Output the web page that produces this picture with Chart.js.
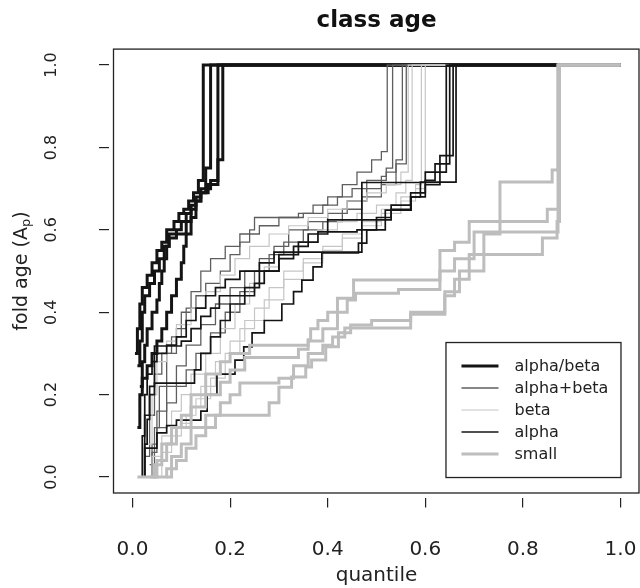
<!DOCTYPE html>
<html><head><meta charset="utf-8">
<script src="https://cdn.jsdelivr.net/npm/chart.js@4.4.0/dist/chart.umd.min.js"></script>
<style>html,body{margin:0;padding:0;background:#fff}#wrap{width:640px;height:588px}</style>
</head><body><div id="wrap"><canvas id="c" width="640" height="588"></canvas></div>
<script>
// ---------- data ----------
const categories = ['alpha/beta', 'alpha+beta', 'beta', 'alpha', 'small'];
const xTickValues = [0, 0.2, 0.4, 0.6, 0.8, 1.0];
const yTickValues = [0, 0.2, 0.4, 0.6, 0.8, 1.0];

// alpha/beta
const abX1 = [0.005,0.01,0.015,0.02,0.03,0.04,0.05,0.06,0.07,0.085,0.095,0.105,0.115,0.125,0.135,0.145,1.0];
const abY1 = [0.30,0.36,0.42,0.46,0.49,0.52,0.55,0.57,0.60,0.62,0.64,0.65,0.67,0.69,0.72,1.0,1.0];
const abX2 = [0.01,0.015,0.02,0.025,0.035,0.045,0.055,0.065,0.075,0.09,0.10,0.11,0.12,0.13,0.14,0.15,0.16,1.0];
const abY2 = [0.27,0.33,0.40,0.44,0.47,0.50,0.53,0.56,0.58,0.60,0.62,0.64,0.66,0.68,0.70,0.75,1.0,1.0];
const abX3 = [0.01,0.015,0.02,0.03,0.04,0.05,0.06,0.07,0.08,0.09,0.10,0.105,0.11,0.12,0.13,0.14,0.155,0.175,1.0];
const abY3 = [0.12,0.20,0.24,0.27,0.30,0.33,0.36,0.40,0.44,0.48,0.52,0.56,0.59,0.63,0.67,0.69,0.71,1.0,1.0];
const abX4 = [0.015,0.02,0.025,0.03,0.04,0.05,0.055,0.06,0.065,0.07,0.075,0.11,0.12,0.13,0.14,0.15,0.16,0.175,0.185,1.0];
const abY4 = [0.22,0.28,0.32,0.36,0.40,0.43,0.47,0.50,0.53,0.56,0.59,0.62,0.65,0.67,0.69,0.70,0.72,0.77,1.0,1.0];

// alpha+beta
const apX1 = [0.035,0.045,0.055,0.07,0.09,0.11,0.13,0.15,0.18,0.20,0.22,0.24,0.25,0.34,0.37,0.40,0.43,0.46,0.49,0.51,0.522,1.0];
const apY1 = [0.03,0.12,0.22,0.30,0.36,0.41,0.44,0.47,0.50,0.54,0.57,0.60,0.63,0.64,0.66,0.68,0.71,0.74,0.77,0.79,1.0,1.0];
const apX2 = [0.03,0.04,0.05,0.07,0.09,0.11,0.14,0.17,0.20,0.23,0.26,0.29,0.32,0.36,0.40,0.44,0.48,0.51,0.52,0.533,1.0];
const apY2 = [0.00,0.08,0.16,0.22,0.27,0.32,0.37,0.42,0.46,0.50,0.53,0.56,0.60,0.62,0.64,0.67,0.70,0.73,0.75,1.0,1.0];
const apX3 = [0.025,0.035,0.045,0.06,0.08,0.10,0.12,0.14,0.16,0.19,0.22,0.26,0.30,0.35,0.39,0.42,0.45,0.48,0.52,0.54,0.553,1.0];
const apY3 = [0.05,0.15,0.25,0.30,0.34,0.40,0.45,0.50,0.53,0.56,0.59,0.61,0.63,0.64,0.66,0.68,0.70,0.72,0.74,0.77,1.0,1.0];
const apX4 = [0.03,0.04,0.05,0.07,0.09,0.11,0.13,0.16,0.19,0.22,0.25,0.28,0.31,0.35,0.39,0.43,0.47,0.51,0.54,0.561,1.0];
const apY4 = [0.00,0.06,0.12,0.18,0.22,0.26,0.30,0.35,0.40,0.45,0.50,0.54,0.57,0.60,0.62,0.65,0.68,0.71,0.76,1.0,1.0];

// beta
const beX1 = [0.03,0.04,0.06,0.08,0.10,0.12,0.15,0.18,0.21,0.24,0.27,0.30,0.34,0.38,0.42,0.46,0.50,0.54,0.56,0.573,1.0];
const beY1 = [0.00,0.05,0.10,0.16,0.20,0.25,0.30,0.36,0.42,0.47,0.51,0.54,0.57,0.60,0.62,0.64,0.66,0.69,0.72,1.0,1.0];
const beX2 = [0.04,0.05,0.07,0.09,0.11,0.13,0.16,0.19,0.22,0.25,0.28,0.31,0.35,0.39,0.43,0.47,0.51,0.55,0.58,0.592,1.0];
const beY2 = [0.00,0.04,0.08,0.12,0.15,0.19,0.24,0.30,0.36,0.41,0.46,0.50,0.53,0.56,0.59,0.62,0.65,0.68,0.71,1.0,1.0];
const beX3 = [0.03,0.04,0.05,0.07,0.09,0.12,0.15,0.18,0.21,0.24,0.28,0.32,0.36,0.40,0.44,0.48,0.52,0.55,0.565,1.0];
const beY3 = [0.08,0.20,0.28,0.33,0.37,0.41,0.45,0.49,0.53,0.56,0.59,0.61,0.63,0.65,0.67,0.69,0.71,0.74,1.0,1.0];
const beX4 = [0.05,0.06,0.08,0.10,0.12,0.14,0.17,0.20,0.23,0.27,0.31,0.35,0.39,0.43,0.47,0.51,0.55,0.58,0.60,1.0];
const beY4 = [0.00,0.06,0.10,0.13,0.17,0.22,0.28,0.33,0.38,0.43,0.48,0.52,0.55,0.58,0.61,0.64,0.67,0.70,1.0,1.0];

// alpha
const alX1 = [0.015,0.02,0.025,0.03,0.04,0.05,0.07,0.09,0.11,0.13,0.15,0.17,0.19,0.22,0.26,0.29,0.47,0.60,0.643,1.0];
const alY1 = [0.00,0.10,0.20,0.25,0.28,0.30,0.32,0.34,0.38,0.41,0.44,0.46,0.48,0.50,0.52,0.546,0.715,0.74,1.0,1.0];
const alX2 = [0.02,0.025,0.03,0.035,0.045,0.127,0.14,0.16,0.18,0.20,0.23,0.26,0.30,0.34,0.38,0.46,0.50,0.53,0.57,0.60,0.62,0.65,1.0];
const alY2 = [0.00,0.08,0.14,0.20,0.228,0.26,0.30,0.34,0.38,0.42,0.46,0.50,0.54,0.57,0.595,0.60,0.63,0.66,0.69,0.72,0.76,1.0,1.0];
const alX3 = [0.02,0.025,0.035,0.045,0.10,0.12,0.14,0.16,0.178,0.25,0.27,0.30,0.33,0.36,0.40,0.53,0.57,0.60,0.63,0.657,1.0];
const alY3 = [0.00,0.15,0.22,0.318,0.33,0.36,0.39,0.41,0.44,0.47,0.50,0.53,0.56,0.59,0.624,0.65,0.68,0.71,0.78,1.0,1.0];
const alX4 = [0.018,0.025,0.05,0.07,0.09,0.14,0.153,0.173,0.21,0.228,0.245,0.27,0.306,0.33,0.347,0.37,0.388,0.463,0.48,0.518,0.571,0.59,0.663,1.0];
const alY4 = [0.00,0.07,0.107,0.125,0.138,0.16,0.20,0.25,0.284,0.316,0.35,0.38,0.42,0.45,0.478,0.51,0.544,0.568,0.60,0.648,0.68,0.716,1.0,1.0];

// small
const smX1 = [0.035,0.045,0.06,0.08,0.10,0.12,0.15,0.18,0.20,0.24,0.36,0.365,0.38,0.40,0.42,0.453,0.63,0.66,0.69,0.85,0.875,1.0];
const smY1 = [0.00,0.03,0.08,0.12,0.15,0.20,0.25,0.28,0.30,0.32,0.333,0.36,0.38,0.40,0.434,0.478,0.55,0.57,0.62,0.65,1.0,1.0];
const smX2 = [0.04,0.05,0.07,0.09,0.12,0.15,0.18,0.20,0.23,0.34,0.36,0.39,0.42,0.44,0.457,0.545,0.63,0.66,0.70,0.872,1.0];
const smY2 = [0.00,0.04,0.08,0.12,0.17,0.20,0.23,0.26,0.29,0.31,0.33,0.36,0.40,0.43,0.446,0.455,0.50,0.53,0.595,1.0,1.0];
const smX3 = [0.07,0.08,0.10,0.12,0.15,0.18,0.20,0.22,0.30,0.33,0.36,0.39,0.41,0.435,0.57,0.64,0.66,0.69,0.84,0.87,0.875,1.0];
const smY3 = [0.00,0.05,0.08,0.12,0.15,0.18,0.20,0.228,0.24,0.27,0.30,0.32,0.34,0.362,0.395,0.44,0.48,0.54,0.58,0.62,1.0,1.0];
const smX4 = [0.01,0.07,0.09,0.11,0.13,0.15,0.17,0.28,0.30,0.326,0.355,0.367,0.396,0.422,0.447,0.49,0.57,0.64,0.67,0.72,0.753,0.86,0.872,1.0];
const smY4 = [0.00,0.02,0.04,0.07,0.10,0.12,0.15,0.18,0.218,0.243,0.267,0.284,0.316,0.35,0.369,0.38,0.40,0.45,0.50,0.59,0.716,0.745,1.0,1.0];

const curvesByClass = {
  'alpha/beta': [[abX1,abY1],[abX2,abY2],[abX3,abY3],[abX4,abY4]],
  'alpha+beta': [[apX1,apY1],[apX2,apY2],[apX3,apY3],[apX4,apY4]],
  'beta':       [[beX1,beY1],[beX2,beY2],[beX3,beY3],[beX4,beY4]],
  'alpha':      [[alX1,alY1],[alX2,alY2],[alX3,alY3],[alX4,alY4]],
  'small':      [[smX1,smY1],[smX2,smY2],[smX3,smY3],[smX4,smY4]]
};

// ---------- styles ----------
const classStyle = {
  'alpha/beta': {color:'#141414', width:3.0, order:4},
  'alpha+beta': {color:'#5e5e5e', width:1.3, order:3},
  'beta':       {color:'#c6c6c6', width:1.2, order:2},
  'alpha':      {color:'#141414', width:1.7, order:1},
  'small':      {color:'#bdbdbd', width:3.0, order:0}
};
const FONT = 'DejaVu Sans';
const TEXT = '#222';

const datasets = [];
categories.forEach(cat => {
  curvesByClass[cat].forEach(([xs, ys]) => {
    datasets.push({
      label: cat,
      data: xs.map((x, i) => ({x: x, y: ys[i]})),
      showLine: true,
      stepped: true,
      borderColor: classStyle[cat].color,
      borderWidth: classStyle[cat].width,
      pointRadius: 0,
      pointHoverRadius: 0,
      fill: false,
      order: classStyle[cat].order,
      borderJoinStyle: 'miter'
    });
  });
});

const framePlugin = {
  id: 'frameAndLegend',
  afterDraw(chart) {
    const ctx = chart.ctx, a = chart.chartArea;
    const xs = chart.scales.x, ys = chart.scales.y;
    ctx.save();
    // plot box
    ctx.strokeStyle = '#222';
    ctx.lineWidth = 1.3;
    ctx.strokeRect(a.left + 0.5, a.top + 0.5, a.right - a.left - 1.5, a.bottom - a.top - 1);

    // y-axis title with subscript
    ctx.save();
    ctx.translate(22, (a.top + a.bottom) / 2);
    ctx.rotate(-Math.PI / 2);
    ctx.fillStyle = TEXT;
    ctx.textBaseline = 'middle';
    const big = '19px "' + FONT + '"', small = '13px "' + FONT + '"';
    const parts = [['fold age (A', big, 0], ['p', small, 5], [')', big, 0]];
    let total = 0;
    parts.forEach(p => { ctx.font = p[1]; total += ctx.measureText(p[0]).width; });
    let cx = -total / 2;
    ctx.textAlign = 'left';
    parts.forEach(p => { ctx.font = p[1]; ctx.fillText(p[0], cx, p[2]); cx += ctx.measureText(p[0]).width; });
    ctx.restore();

    // legend box anchored at (1.0, 0.0)
    const right = xs.getPixelForValue(1.0);
    const bottom = ys.getPixelForValue(0.0);
    const w = 175, h = 135;
    const left = right - w, top = bottom - h;
    ctx.fillStyle = '#fff';
    ctx.fillRect(left, top, w, h);
    ctx.strokeStyle = '#222';
    ctx.lineWidth = 1.3;
    ctx.strokeRect(left + 0.5, top + 0.5, w, h);
    ctx.font = '16px "' + FONT + '"';
    ctx.textBaseline = 'middle';
    ctx.textAlign = 'left';
    categories.forEach((cat, i) => {
      const yy = top + 24 + i * 22;
      const st = classStyle[cat];
      ctx.strokeStyle = st.color;
      ctx.lineWidth = st.width;
      ctx.beginPath();
      ctx.moveTo(left + 16, yy);
      ctx.lineTo(left + 53, yy);
      ctx.stroke();
      ctx.fillStyle = TEXT;
      ctx.fillText(cat, left + 69, yy + 1);
    });
    ctx.restore();
  }
};

new Chart(document.getElementById('c'), {
  type: 'scatter',
  data: {datasets: datasets},
  options: {
    responsive: false,
    animation: false,
    devicePixelRatio: 1,
    layout: {padding: 0},
    plugins: {
      legend: {display: false},
      tooltip: {enabled: false},
      title: {
        display: true, fullSize: false, text: 'class age', color: '#111',
        font: {family: FONT, size: 23, weight: 'bold'},
        padding: {top: 7, bottom: 14}
      }
    },
    scales: {
      x: {
        type: 'linear', min: -0.04, max: 1.04,
        afterBuildTicks: s => { s.ticks = xTickValues.map(v => ({value: v})); },
        afterFit: s => { s.height = 94.5; s.paddingLeft = 0; s.paddingRight = 0; },
        border: {display: false},
        grid: {drawOnChartArea: false, drawTicks: true, tickLength: 14, color: '#222', lineWidth: 1.2, tickBorderDash: [0, 4, 10, 100]},
        ticks: {font: {family: FONT, size: 20}, color: TEXT, padding: 30, autoSkip: false, maxRotation: 0, callback: v => Number(v).toFixed(1)},
        title: {display: true, text: 'quantile', color: TEXT, font: {family: FONT, size: 20}, padding: {top: 0, bottom: 0}}
      },
      y: {
        type: 'linear', min: -0.04, max: 1.04,
        afterBuildTicks: s => { s.ticks = yTickValues.map(v => ({value: v})); },
        afterFit: s => { s.width = 113; s.paddingTop = 0; s.paddingBottom = 0; },
        border: {display: false},
        grid: {drawOnChartArea: false, drawTicks: true, tickLength: 14, color: '#222', lineWidth: 1.2, tickBorderDash: [10, 100]},
        ticks: {font: {family: FONT, size: 16}, color: TEXT, padding: 34, autoSkip: false, minRotation: 90, maxRotation: 90, crossAlign: 'center', callback: v => Number(v).toFixed(1)},
        title: {display: false}
      }
    }
  },
  plugins: [framePlugin]
});
</script>
</body></html>
